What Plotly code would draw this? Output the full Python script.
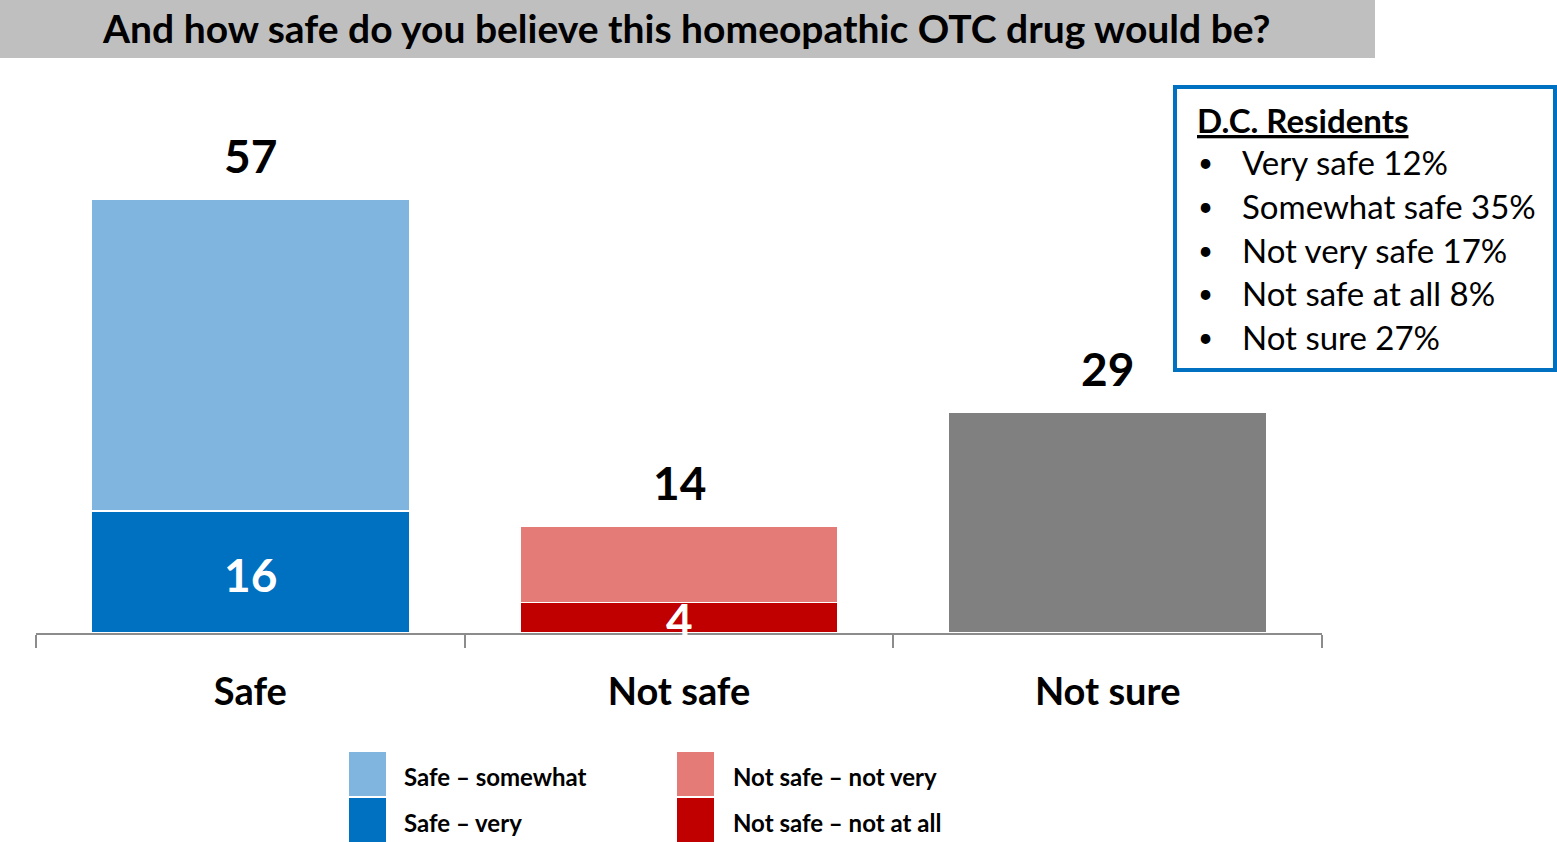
import plotly.graph_objects as go

# ---- data ----
categories = ["Safe", "Not safe", "Not sure"]
safe_very = [16, None, None]
safe_somewhat = [41, None, None]
notsafe_notatall = [None, 4, None]
notsafe_notvery = [None, 10, None]
not_sure = [None, None, 29]
inner_labels = [16, 4, None]
dc_lines = ["Very safe 12%", "Somewhat safe 35%", "Not very safe 17%",
            "Not safe at all 8%", "Not sure 27%"]
legend_items = [("Safe \u2013 somewhat", "#7FB5DF"), ("Safe \u2013 very", "#0070C0"),
                ("Not safe \u2013 not very", "#E57B77"), ("Not safe \u2013 not at all", "#C00000")]

W, H = 1557, 842
L, R, T, B = 36, 235, 80, 209
PW, PH = W - L - R, H - T - B
YMAX = 72.63
FONT = "Lato"

def px(x):
    return (x - L) / PW

def py(y):
    return (H - B - y) / PH

fig = go.Figure()
series = [
    ("Safe \u2013 very", safe_very, "#0070C0"),
    ("Safe \u2013 somewhat", safe_somewhat, "#7FB5DF"),
    ("Not safe \u2013 not at all", notsafe_notatall, "#C00000"),
    ("Not safe \u2013 not very", notsafe_notvery, "#E57B77"),
    ("Not sure", not_sure, "#808080"),
]
for name, vals, col in series:
    fig.add_trace(go.Bar(x=categories, y=vals, name=name, marker_color=col,
                         marker_line=dict(color="white", width=1.5), showlegend=False))

ann = []
# totals
for i, c in enumerate(categories):
    tot = sum(v[i] or 0 for _, v, _ in series)
    ann.append(dict(x=c, y=tot, text=f"<b>{tot}</b>", showarrow=False, yanchor="middle",
                    yshift=44, font=dict(size=46, color="black", family=FONT)))
# inner labels
for i, c in enumerate(categories):
    if inner_labels[i] is not None:
        ann.append(dict(x=c, y=inner_labels[i] / 2, text=f"<b>{inner_labels[i]}</b>",
                        showarrow=False, yanchor="middle", yshift=-2,
                        font=dict(size=46, color="white", family=FONT)))

shapes = []
# title bar
shapes.append(dict(type="rect", xref="paper", yref="paper", x0=px(0), x1=px(1375),
                   y0=py(58), y1=py(0), fillcolor="#BFBFBF", line_width=0, layer="below"))
ann.append(dict(xref="paper", yref="paper", x=px(686), y=py(28), showarrow=False,
                text="<b>And how safe do you believe this homeopathic OTC drug would be?</b>",
                font=dict(size=39, color="black", family=FONT), xanchor="center", yanchor="middle"))

# D.C. box
shapes.append(dict(type="rect", xref="paper", yref="paper", x0=px(1175), x1=px(1555),
                   y0=py(370), y1=py(87), fillcolor="white", line=dict(color="#0070C0", width=4)))
ann.append(dict(xref="paper", yref="paper", x=px(1195), y=py(120), showarrow=False,
                text="<b><u>D.C. Residents</u></b>", xanchor="left", yanchor="middle",
                font=dict(size=33, color="black", family=FONT)))
ys = [162, 206, 250, 293, 337]
for yy, t in zip(ys, dc_lines):
    ann.append(dict(xref="paper", yref="paper", x=px(1196), y=py(yy), showarrow=False,
                    text="\u2022", xanchor="left", yanchor="middle",
                    font=dict(size=26, color="black", family=FONT)))
    ann.append(dict(xref="paper", yref="paper", x=px(1240), y=py(yy), showarrow=False,
                    text=t, xanchor="left", yanchor="middle",
                    font=dict(size=33, color="black", family=FONT)))

# custom legend
pos = [(349, 752, 402, 776), (349, 798, 402, 822), (677, 752, 731, 776), (677, 798, 731, 822)]
for (sx, sy, tx, ty), (lab, col) in zip(pos, legend_items):
    shapes.append(dict(type="rect", xref="paper", yref="paper", x0=px(sx), x1=px(sx + 37),
                       y0=py(sy + 44), y1=py(sy), fillcolor=col, line_width=0))
    ann.append(dict(xref="paper", yref="paper", x=px(tx), y=py(ty), showarrow=False,
                    text=f"<b>{lab}</b>", xanchor="left", yanchor="middle",
                    font=dict(size=24, color="black", family=FONT)))

fig.update_layout(
    width=W, height=H, barmode="stack", bargap=0.258,
    margin=dict(l=L, r=R, t=T, b=B, autoexpand=False),
    plot_bgcolor="white", paper_bgcolor="white",
    font=dict(family=FONT, color="black"),
    annotations=ann, shapes=shapes,
    xaxis=dict(showline=True, linecolor="#8C8C8C", linewidth=2, tickson="boundaries",
               ticks="outside", ticklen=13, tickwidth=2, tickcolor="#8C8C8C",
               tickfont=dict(size=38, color="black", family=FONT),
               ticklabelstandoff=24, showgrid=False),
    yaxis=dict(range=[0, YMAX], visible=False, showgrid=False),
)
fig.update_xaxes(ticktext=[f"<b>{c}</b>" for c in categories], tickvals=categories)
fig.write_html("out.html", config={"displayModeBar": False},
               post_script="document.body.style.margin='0';")
